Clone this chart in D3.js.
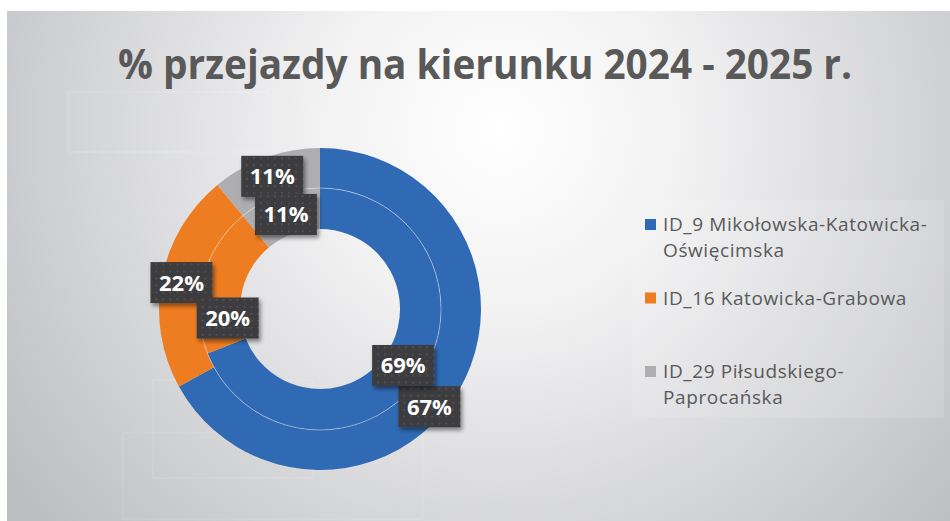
<!DOCTYPE html>
<html>
<head>
<meta charset="utf-8">
<script src="https://cdn.jsdelivr.net/npm/d3@7"></script>
<style>
  html, body { margin: 0; padding: 0; background: #fff; }
  svg { display: block; }
</style>
</head>
<body>
<div id="chart"></div>
<script>
// data
var categories = ["ID_9 Mikołowska-Katowicka-Oświęcimska", "ID_16 Katowicka-Grabowa", "ID_29 Piłsudskiego-Paprocańska"];
var legendLines = [["ID_9 Mikołowska-Katowicka-", "Oświęcimska"], ["ID_16 Katowicka-Grabowa"], ["ID_29 Piłsudskiego-", "Paprocańska"]];
var outerValues = [67, 22, 11];
var innerValues = [69, 20, 11];
var title = "% przejazdy na kierunku 2024 - 2025 r.";

var width = 950, height = 521,
    cx = 320, cy = 309,
    rHole = 80, rMid = 121, rOuter = 161,
    colors = ["#306ab4", "#ee7d22", "#aeaeb0"];

// labels Excel pushed off the centroid to avoid overlap
var labelNudge = {"outer-0": [-12, 26], "inner-1": [5, 34]};

var svg = d3.select("#chart").append("svg")
    .attr("width", width)
    .attr("height", height);

var defs = svg.append("defs");

var bg = defs.append("radialGradient")
    .attr("id", "bg")
    .attr("gradientUnits", "userSpaceOnUse")
    .attr("cx", 500).attr("cy", 130).attr("r", 600);
bg.append("stop").attr("offset", "0").attr("stop-color", "#ffffff");
bg.append("stop").attr("offset", "0.3").attr("stop-color", "#f2f2f3");
bg.append("stop").attr("offset", "1").attr("stop-color", "#bdbec2");

var pat = defs.append("pattern")
    .attr("id", "dots")
    .attr("patternUnits", "userSpaceOnUse")
    .attr("width", 7).attr("height", 7);
pat.append("rect").attr("width", 7).attr("height", 7).attr("fill", "#3d3d3f");
pat.append("rect").attr("x", 2).attr("y", 2).attr("width", 1.6).attr("height", 1.6).attr("fill", "#58585a");

var shadow = defs.append("filter")
    .attr("id", "shadow")
    .attr("x", "-30%").attr("y", "-30%").attr("width", "160%").attr("height", "160%");
shadow.append("feDropShadow")
    .attr("dx", 2).attr("dy", 3).attr("stdDeviation", 2)
    .attr("flood-color", "#000").attr("flood-opacity", 0.45);

// chart area
svg.append("rect")
    .attr("x", 7).attr("y", 11)
    .attr("width", width - 7).attr("height", height - 11)
    .attr("fill", "url(#bg)");

// faint decorative frames in the background
var deco = [[68, 92, 200, 60], [123, 433, 300, 86], [153, 380, 160, 98]];
svg.append("g").selectAll("rect")
    .data(deco)
    .enter().append("rect")
    .attr("x", function(d) { return d[0]; })
    .attr("y", function(d) { return d[1]; })
    .attr("width", function(d) { return d[2]; })
    .attr("height", function(d) { return d[3]; })
    .attr("fill", "none")
    .attr("stroke", "#ffffff")
    .attr("stroke-opacity", 0.2);

svg.append("text")
    .attr("x", 485)
    .attr("y", 79)
    .attr("text-anchor", "middle")
    .attr("textLength", 734)
    .attr("lengthAdjust", "spacingAndGlyphs")
    .style("font-family", "'Open Sans', sans-serif")
    .style("font-weight", "bold")
    .style("font-size", "42px")
    .style("fill", "#595959")
    .text(title);

var pie = d3.pie().sort(null).value(function(d) { return d; });

var rings = [
    {key: "outer", values: outerValues, inner: rMid, outer: rOuter},
    {key: "inner", values: innerValues, inner: rHole, outer: rMid}
];

var g = svg.append("g")
    .attr("transform", "translate(" + cx + "," + cy + ")");

rings.forEach(function(ring) {
    var arc = d3.arc().innerRadius(ring.inner).outerRadius(ring.outer);
    g.append("g")
        .attr("class", "ring ring--" + ring.key)
        .selectAll("path")
        .data(pie(ring.values))
        .enter().append("path")
        .attr("d", arc)
        .attr("fill", function(d, i) { return colors[i]; });
});

// thin light line between the rings
g.append("circle")
    .attr("r", rMid)
    .attr("fill", "none")
    .attr("stroke", "#ffffff")
    .attr("stroke-opacity", 0.5)
    .attr("stroke-width", 0.8);

// data labels
var boxW = 62, boxH = 41;
rings.forEach(function(ring) {
    var arc = d3.arc().innerRadius(ring.inner).outerRadius(ring.outer);
    var lab = g.append("g")
        .attr("class", "labels labels--" + ring.key)
        .selectAll("g")
        .data(pie(ring.values))
        .enter().append("g")
        .attr("transform", function(d, i) {
            var c = arc.centroid(d),
                n = labelNudge[ring.key + "-" + i] || [0, 0];
            return "translate(" + (c[0] + n[0]) + "," + (c[1] + n[1]) + ")";
        });

    lab.append("rect")
        .attr("x", -boxW / 2).attr("y", -boxH / 2)
        .attr("width", boxW).attr("height", boxH)
        .attr("fill", "url(#dots)")
        .attr("filter", "url(#shadow)");

    lab.append("text")
        .attr("text-anchor", "middle")
        .attr("y", 8)
        .style("font-family", "'Open Sans', sans-serif")
        .style("font-weight", "bold")
        .style("font-size", "22px")
        .style("fill", "#ffffff")
        .text(function(d) { return d.data + "%"; });
});

// legend
svg.append("rect")
    .attr("x", 632).attr("y", 200)
    .attr("width", 312).attr("height", 218)
    .attr("fill", "#ffffff")
    .attr("fill-opacity", 0.12);

var leg = svg.append("g")
    .attr("class", "legend")
    .selectAll("g")
    .data(categories)
    .enter().append("g")
    .attr("transform", function(d, i) {
        return "translate(645," + (231 + 73.5 * i) + ")";
    });

leg.append("rect")
    .attr("y", -12)
    .attr("width", 11)
    .attr("height", 11)
    .attr("fill", function(d, i) { return colors[i]; });

leg.append("text")
    .style("font-family", "'Open Sans', sans-serif")
    .style("font-size", "19px")
    .style("letter-spacing", "0.6px")
    .style("fill", "#595959")
    .selectAll("tspan")
    .data(function(d, i) { return legendLines[i]; })
    .enter().append("tspan")
    .attr("x", 18)
    .attr("y", function(d, j) { return j * 25.5; })
    .text(function(d) { return d; });
</script>
</body>
</html>
